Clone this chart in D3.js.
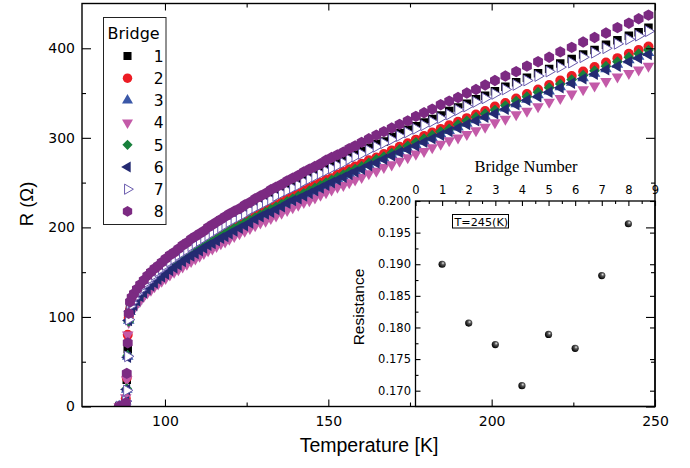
<!DOCTYPE html>
<html>
<head>
<meta charset="utf-8">
<script src="https://cdn.jsdelivr.net/npm/d3@7"></script>
<style>
	body { margin: 0; background: #fff; }
	svg { display: block; }
</style>
</head>
<body>
<div id="chart_area"></div>
<script>

//////////////////////DATA//////////////////////////

// temperature of every measurement (K), shared by the 8 bridges
var tempK = [86.0, 86.8, 87.5, 88.0, 88.3, 88.6, 88.9,
	89.3, 89.8, 90.5, 91.4, 92.4, 93.5, 94.6, 95.7, 96.8, 97.9,
	99.0, 100.2, 101.5, 102.8, 104.1, 105.4, 106.7, 108.0, 109.3, 110.6,
	111.9, 113.2, 114.5, 115.8, 117.1, 118.4, 119.7, 121.2, 122.8, 124.4,
	126.0, 127.6, 129.2, 130.8, 132.4, 134.0, 135.7, 137.4, 139.1, 140.8,
	142.5, 144.2, 145.9, 147.6, 149.3, 151.0, 152.8, 154.6, 156.4, 158.2,
	160.2, 162.4, 164.7, 167.0, 169.4, 171.8, 174.3, 176.8, 179.3, 181.8,
	184.4, 187.0, 189.7, 192.4, 195.2, 198.0, 201.0, 204.2, 207.5, 210.8,
	214.2, 217.6, 221.0, 224.5, 228.0, 231.5, 235.0, 238.5, 242.0, 245.0, 248.0];

// resistance of each bridge (Ohm)
var r1 = [0,0,1,3,30,64,98, 114,117,122,127,132,136,141,145,149,152, 156,159,163,167,170,174,177,180,184,187,
	190,193,196,199,202,205,208,211,214,217, 221,224,227,231,234,237,240,243,247,250, 253,256,259,262,265,269,272,275,278,281,
	285,289,293,296,301,305,309,313,317,321, 325,330,334,338,343,347,352,357,362,367, 372,377,383,388,393,398,404,409,414,418,423];
var r2 = [0,0,2,9,32,80,99, 108,112,116,121,125,130,134,138,141,145, 148,151,155,159,162,165,168,172,175,178,
	181,184,186,189,192,195,197,200,204,207, 210,213,216,219,222,225,228,232,235,238, 241,244,247,250,253,255,259,262,265,268,
	271,275,278,282,286,290,294,298,302,306, 310,314,318,322,326,330,335,339,344,349, 354,359,364,369,374,379,384,389,394,398,402];
var r3 = [0,0,1,6,19,56,96, 106,110,114,118,123,127,131,135,139,142, 145,149,152,156,159,162,165,168,171,174,
	177,180,183,186,188,191,194,197,200,203, 206,209,212,215,218,221,224,227,230,233, 236,239,242,245,248,251,254,257,260,263,
	266,270,273,277,281,284,288,292,296,300, 304,308,312,316,320,324,329,333,338,343, 348,352,357,362,367,372,377,382,387,391,395];
var r4 = [0,1,2,10,30,80,94, 102,106,110,114,118,123,127,130,134,137, 140,143,147,150,153,156,159,162,165,168,
	171,174,176,179,182,184,187,190,193,196, 199,202,205,207,210,213,216,219,222,225, 228,230,233,236,239,242,245,247,250,253,
	256,260,263,267,270,274,278,282,285,289, 293,297,300,304,308,312,317,321,326,330, 335,340,344,349,354,358,363,368,372,376,380];
var r5 = [0,0,1,5,20,57,95, 107,111,115,120,124,128,133,136,140,143, 147,150,154,157,160,164,167,170,173,176,
	179,182,185,187,190,193,196,199,202,205, 208,211,214,217,220,223,226,229,232,235, 238,241,244,247,250,253,256,259,262,265,
	268,272,276,279,283,287,291,295,299,303, 307,310,315,319,323,327,331,336,341,346, 351,356,360,365,370,375,380,385,390,394,398];
var r6 = [0,0,1,5,19,55,96, 106,109,113,118,123,127,131,135,138,142, 145,148,152,155,158,162,165,168,171,174,
	177,180,182,185,188,190,193,196,199,202, 205,209,212,215,217,220,223,227,230,232, 235,238,241,244,247,250,253,256,259,262,
	265,269,272,276,280,284,287,291,295,299, 303,307,311,315,319,323,327,332,337,342, 346,351,356,361,366,371,376,380,385,389,393];
var r7 = [0,0,1,6,18,56,97, 112,116,121,126,130,135,139,143,147,151, 154,158,162,165,169,172,175,179,182,185,
	188,191,194,197,200,203,206,209,212,215, 219,222,225,228,231,235,238,241,244,247, 251,254,257,260,263,266,269,272,276,279,
	282,286,290,294,298,302,306,310,314,318, 322,326,331,335,340,344,349,354,359,364, 369,374,379,384,390,395,400,405,410,414,419];
var r8 = [0,0,1,4,37,71,104, 117,122,126,131,136,141,146,150,154,157, 161,165,169,172,176,180,183,187,190,193,
	196,200,203,206,209,212,215,218,221,225, 228,232,235,238,242,245,248,252,255,258, 262,265,268,271,275,278,281,284,288,291,
	295,299,303,307,311,315,319,324,328,332, 337,341,345,350,354,359,364,369,374,380, 385,390,396,401,407,412,417,423,428,433,437];

var bridgeNames = ["1", "2", "3", "4", "5", "6", "7", "8"];

// inset: resistance of every bridge at T = 245 K
var insetBridge = [1, 2, 3, 4, 5, 6, 7, 8];
var insetR = [0.1900, 0.1807, 0.1773, 0.1708, 0.1789, 0.1767, 0.1882, 0.1964];

// tick values
var xMajor = [100, 150, 200, 250];
var xMinor = [125, 175, 225];
var yMajor = [0, 100, 200, 300, 400];
var yMinor = [50, 150, 250, 350];
var insetXTicks = [0, 1, 2, 3, 4, 5, 6, 7, 8, 9];
var insetXMinor = [0.5, 1.5, 2.5, 3.5, 4.5, 5.5, 6.5, 7.5, 8.5];
var insetYTicks = [0.170, 0.175, 0.180, 0.185, 0.190, 0.195, 0.200];
var insetYMinor = [0.1725, 0.1775, 0.1825, 0.1875, 0.1925, 0.1975];


//////////////////////SYMBOLS//////////////////////////

// hexagon with a point on top
var symbolHexagon = {
	draw: function(context, size) {
		var r = Math.sqrt(2 * size / (3 * Math.sqrt(3)));
		for (var i = 0; i < 6; i++) {
			var a = Math.PI / 3 * i - Math.PI / 2;
			if (i == 0) context.moveTo(r * Math.cos(a), r * Math.sin(a));
			else context.lineTo(r * Math.cos(a), r * Math.sin(a));
		}
		context.closePath();
	}
};
// square turned 45 degrees
var symbolDiamondSq = {
	draw: function(context, size) {
		var r = Math.sqrt(size / 2);
		context.moveTo(0, -r);
		context.lineTo(r, 0);
		context.lineTo(0, r);
		context.lineTo(-r, 0);
		context.closePath();
	}
};

var series = [
	{name: bridgeNames[0], values: r1, shape: d3.symbolSquare, size: 72, rotate: 0, fill: "#000000", stroke: "none"},
	{name: bridgeNames[1], values: r2, shape: d3.symbolCircle, size: 78, rotate: 0, fill: "#ec1c24", stroke: "none"},
	{name: bridgeNames[2], values: r3, shape: d3.symbolTriangle, size: 58, rotate: 0, fill: "#3b58a8", stroke: "none"},
	{name: bridgeNames[3], values: r4, shape: d3.symbolTriangle, size: 58, rotate: 180, fill: "#c35aa8", stroke: "none"},
	{name: bridgeNames[4], values: r5, shape: symbolDiamondSq, size: 58, rotate: 0, fill: "#18803c", stroke: "none"},
	{name: bridgeNames[5], values: r6, shape: d3.symbolTriangle, size: 58, rotate: -90, fill: "#242a72", stroke: "none"},
	{name: bridgeNames[6], values: r7, shape: d3.symbolTriangle, size: 50, rotate: 90, fill: "#ffffff", stroke: "#6a5cae"},
	{name: bridgeNames[7], values: r8, shape: symbolHexagon, size: 84, rotate: 0, fill: "#7c2a82", stroke: "none"}
];


//////////////////////CREATE AXES//////////////////////////

var frame_width = 690;
var frame_height = 468;
var plot = {left: 82, right: 655, top: 3.5, bottom: 406.5};

var frame = d3.select("#chart_area").append("svg")
	.attr("width", frame_width)
	.attr("height", frame_height);

var xScale = d3.scaleLinear()
	.domain([74.6, 250])
	.range([plot.left, plot.right]);
var yScale = d3.scaleLinear()
	.domain([0, 450])
	.range([plot.bottom, plot.top]);

frame.append("defs").append("clipPath")
	.attr("id", "plot_clip")
	.append("rect")
	.attr("x", plot.left)
	.attr("y", plot.top)
	.attr("width", plot.right - plot.left)
	.attr("height", plot.bottom - plot.top);

var ball = frame.select("defs").append("radialGradient")
	.attr("id", "ball")
	.attr("cx", "62%").attr("cy", "35%").attr("r", "65%");
ball.append("stop").attr("offset", "0%").attr("stop-color", "#e8e8e8");
ball.append("stop").attr("offset", "35%").attr("stop-color", "#555");
ball.append("stop").attr("offset", "100%").attr("stop-color", "#000");


//////////////////////FILL IN DATA//////////////////////////

var data_canvas = frame.append("g")
	.attr("class", "data_canvas")
	.attr("clip-path", "url(#plot_clip)");

series.forEach(function(s) {
	var points = [];
	for (var i = 0; i < tempK.length; i++) {
		if (s.values[i] != null) points.push({t: tempK[i], r: s.values[i]});
	}
	data_canvas.append("g")
		.selectAll("path")
		.data(points)
		.enter()
		.append("path")
		.attr("transform", function(d) {
			return "translate(" + xScale(d.t) + "," + yScale(d.r) + ") rotate(" + s.rotate + ")";
		})
		.attr("d", d3.symbol().type(s.shape).size(s.size))
		.style("fill", s.fill)
		.style("stroke", s.stroke)
		.style("stroke-width", 1);
});

// legend
var legend = frame.append("g").attr("class", "legend");
legend.append("rect")
	.attr("x", 103.5).attr("y", 17.5)
	.attr("width", 62.5).attr("height", 207)
	.style("fill", "#fff")
	.style("stroke", "#222")
	.style("stroke-width", 1);
legend.append("text")
	.attr("x", 107.5).attr("y", 38.5)
	.attr("font-family", "DejaVu Sans")
	.attr("font-size", 16)
	.text("Bridge");
var entries = legend.selectAll(".entry")
	.data(series)
	.enter()
	.append("g")
	.attr("class", "entry")
	.attr("transform", function(d, i) { return "translate(0," + (56 + i * 22.2) + ")"; });
entries.append("path")
	.attr("transform", function(d) { return "translate(127.5,0) rotate(" + d.rotate + ")"; })
	.attr("d", function(d) { return d3.symbol().type(d.shape).size(d.size * 0.9)(); })
	.style("fill", function(d) { return d.fill; })
	.style("stroke", function(d) { return d.stroke; })
	.style("stroke-width", 1);
entries.append("text")
	.attr("x", 163.5).attr("y", 5.8)
	.attr("text-anchor", "end")
	.attr("font-family", "DejaVu Sans")
	.attr("font-size", 15.5)
	.text(function(d) { return d.name; });


//////////////////////INSET//////////////////////////

var inset = {left: 415.5, right: plot.right, top: 201, bottom: plot.bottom};
var insetX = d3.scaleLinear().domain([0, 9]).range([inset.left, inset.right]);
var insetY = d3.scaleLinear().domain([0.1675, 0.200]).range([inset.bottom, inset.top]);

var inset_g = frame.append("g").attr("class", "inset");
inset_g.append("rect")
	.attr("x", inset.left).attr("y", inset.top)
	.attr("width", inset.right - inset.left)
	.attr("height", inset.bottom - inset.top)
	.style("fill", "#fff")
	.style("stroke", "#000")
	.style("stroke-width", 1.3);

function styleAxis(g, size) {
	g.select(".domain").remove();
	g.selectAll("line").style("stroke", "#000").style("stroke-width", 1.1);
	g.selectAll("text")
		.attr("font-family", "DejaVu Sans")
		.attr("font-size", size)
		.style("fill", "#000");
}

inset_g.append("g")
	.attr("transform", "translate(0," + inset.top + ")")
	.call(d3.axisTop(insetX).tickValues(insetXTicks).tickSize(-5).tickPadding(7).tickFormat(d3.format("d")))
	.call(styleAxis, 11.5);
inset_g.append("g")
	.attr("transform", "translate(0," + inset.top + ")")
	.call(d3.axisTop(insetX).tickValues(insetXMinor).tickSize(-3).tickFormat(""))
	.call(styleAxis, 11.5);
inset_g.append("g")
	.attr("transform", "translate(" + inset.left + ",0)")
	.call(d3.axisLeft(insetY).tickValues(insetYTicks).tickSize(-5).tickPadding(4.5).tickFormat(d3.format(".3f")))
	.call(styleAxis, 11.5);
inset_g.append("g")
	.attr("transform", "translate(" + inset.left + ",0)")
	.call(d3.axisLeft(insetY).tickValues(insetYMinor).tickSize(-3).tickFormat(""))
	.call(styleAxis, 11.5);
inset_g.append("g")
	.attr("transform", "translate(" + inset.right + ",0)")
	.call(d3.axisRight(insetY).tickValues(insetYTicks).tickSize(-5).tickFormat(""))
	.call(styleAxis, 11.5);

inset_g.append("text")
	.attr("x", 526).attr("y", 171.5)
	.attr("text-anchor", "middle")
	.attr("font-family", "Liberation Serif")
	.attr("font-size", 16.5)
	.text("Bridge Number");
inset_g.append("text")
	.attr("transform", "translate(364,307) rotate(-90)")
	.attr("text-anchor", "middle")
	.attr("font-family", "Liberation Sans")
	.attr("font-size", 15.5)
	.text("Resistance");

inset_g.append("rect")
	.attr("x", 452.5).attr("y", 214.5)
	.attr("width", 56).attr("height", 13.5)
	.style("fill", "none")
	.style("stroke", "#000")
	.style("stroke-width", 1);
inset_g.append("text")
	.attr("x", 454.5).attr("y", 225.6)
	.attr("font-family", "DejaVu Sans")
	.attr("font-size", 11.2)
	.text("T=245(K)");

inset_g.selectAll(".ball")
	.data(insetBridge)
	.enter()
	.append("circle")
	.attr("class", "ball")
	.attr("cx", function(d) { return insetX(d); })
	.attr("cy", function(d, i) { return insetY(insetR[i]); })
	.attr("r", 3.6)
	.style("fill", "url(#ball)");


//////////////////////MAIN AXES ON TOP//////////////////////////

var axes = frame.append("g").attr("class", "axes");
axes.append("rect")
	.attr("x", plot.left).attr("y", plot.top)
	.attr("width", plot.right - plot.left)
	.attr("height", plot.bottom - plot.top)
	.style("fill", "none")
	.style("stroke", "#000")
	.style("stroke-width", 1.4);

axes.append("g")
	.attr("transform", "translate(0," + plot.bottom + ")")
	.call(d3.axisBottom(xScale).tickValues(xMajor).tickSize(-7).tickPadding(10))
	.call(styleAxis, 14);
axes.append("g")
	.attr("transform", "translate(0," + plot.bottom + ")")
	.call(d3.axisBottom(xScale).tickValues(xMinor).tickSize(-4).tickFormat(""))
	.call(styleAxis, 14);
axes.append("g")
	.attr("transform", "translate(0," + plot.top + ")")
	.call(d3.axisTop(xScale).tickValues(xMajor).tickSize(-7).tickFormat(""))
	.call(styleAxis, 14);
axes.append("g")
	.attr("transform", "translate(0," + plot.top + ")")
	.call(d3.axisTop(xScale).tickValues(xMinor).tickSize(-4).tickFormat(""))
	.call(styleAxis, 14);
axes.append("g")
	.attr("transform", "translate(" + plot.left + ",0)")
	.call(d3.axisLeft(yScale).tickValues(yMajor).tickSize(-9).tickPadding(7))
	.call(styleAxis, 14);
axes.append("g")
	.attr("transform", "translate(" + plot.left + ",0)")
	.call(d3.axisLeft(yScale).tickValues(yMinor).tickSize(-4).tickFormat(""))
	.call(styleAxis, 14);
axes.append("g")
	.attr("transform", "translate(" + plot.right + ",0)")
	.call(d3.axisRight(yScale).tickValues(yMajor).tickSize(-9).tickFormat(""))
	.call(styleAxis, 14);
axes.append("g")
	.attr("transform", "translate(" + plot.right + ",0)")
	.call(d3.axisRight(yScale).tickValues(yMinor).tickSize(-4).tickFormat(""))
	.call(styleAxis, 14);

// axis titles
axes.append("text")
	.attr("x", 369).attr("y", 452)
	.attr("text-anchor", "middle")
	.attr("font-family", "Liberation Sans")
	.attr("font-size", 19.5)
	.text("Temperature [K]");
axes.append("text")
	.attr("transform", "translate(33,204) rotate(-90)")
	.attr("text-anchor", "middle")
	.attr("font-family", "Liberation Sans")
	.attr("font-size", 18.5)
	.text("R (\u03A9)");

</script>
</body>
</html>
